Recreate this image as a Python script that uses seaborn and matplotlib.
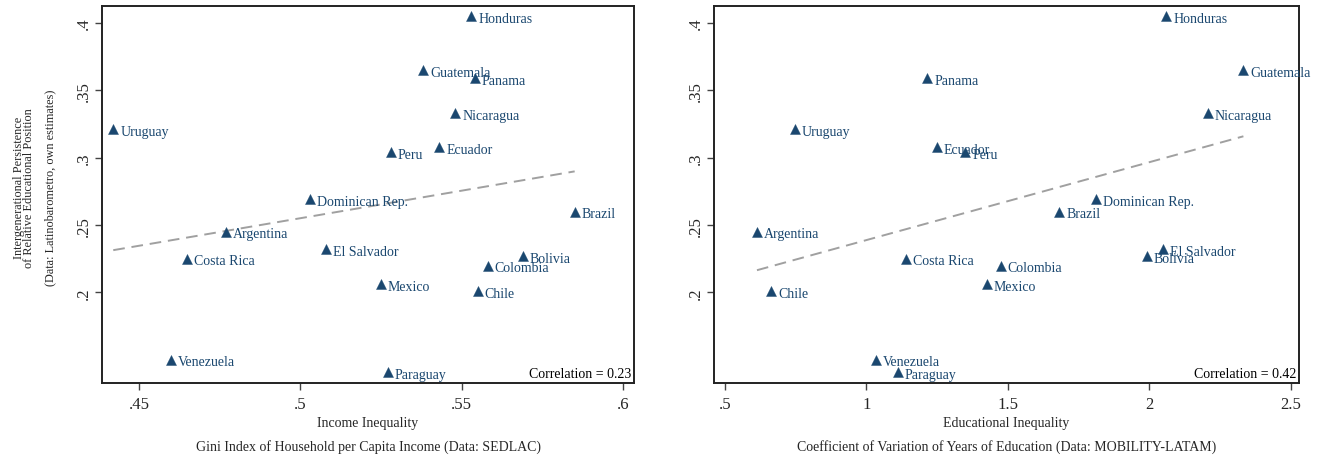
import numpy as np
import pandas as pd
import seaborn as sns
import matplotlib.pyplot as plt
from matplotlib.ticker import FuncFormatter

countries = ["Honduras", "Guatemala", "Panama", "Nicaragua", "Uruguay", "Ecuador",
             "Peru", "Dominican Rep.", "Brazil", "Argentina", "El Salvador",
             "Costa Rica", "Bolivia", "Colombia", "Mexico", "Chile", "Venezuela",
             "Paraguay"]
persistence = [0.405, 0.365, 0.359, 0.333, 0.321, 0.308, 0.304, 0.269, 0.260,
               0.245, 0.232, 0.225, 0.227, 0.220, 0.206, 0.201, 0.150, 0.141]
gini = [0.553, 0.538, 0.554, 0.548, 0.442, 0.543, 0.528, 0.503, 0.585, 0.477,
        0.508, 0.465, 0.569, 0.558, 0.525, 0.555, 0.460, 0.527]
edu_cv = [2.060, 2.332, 1.215, 2.206, 0.747, 1.249, 1.349, 1.810, 1.681, 0.613,
          2.047, 1.141, 1.990, 1.475, 1.426, 0.664, 1.032, 1.111]

df = pd.DataFrame({"country": countries, "persistence": persistence,
                   "gini": gini, "edu_cv": edu_cv})

NAVY = "#1a476f"

sns.set_style("ticks")
plt.rcParams["font.family"] = ["Liberation Serif", "DejaVu Serif"]
plt.rcParams["axes.linewidth"] = 1.4


def strip_zero(v, pos):
    s = f"{v:g}"
    if s.startswith("0."):
        s = s[1:]
    return s


def draw_panel(ax, xcol, xlim, xticks, xlabel, note, corr):
    # dashed linear fit, then the triangles with their country names
    sns.regplot(data=df, x=xcol, y="persistence", ax=ax, scatter=False, ci=None,
                line_kws={"color": "#a0a0a0", "ls": (0, (6, 3.5)), "lw": 1.4})
    sns.scatterplot(data=df, x=xcol, y="persistence", ax=ax, marker="^", s=52,
                    color=NAVY, edgecolor=NAVY, linewidth=0.3, zorder=3)
    for _, r in df.iterrows():
        ax.annotate(r["country"], (r[xcol], r["persistence"]), xytext=(5, -1.5),
                    textcoords="offset points", va="center", ha="left",
                    fontsize=10, color=NAVY)
    ax.set_xlim(*xlim)
    ax.set_ylim(0.1328, 0.4126)
    ax.set_xticks(xticks)
    ax.set_yticks([0.2, 0.25, 0.3, 0.35, 0.4])
    ax.xaxis.set_major_formatter(FuncFormatter(strip_zero))
    ax.yaxis.set_major_formatter(FuncFormatter(strip_zero))
    ax.tick_params(axis="both", direction="out", length=5, width=1,
                   color="#444444", labelsize=12)
    ax.tick_params(axis="x", pad=4)
    ax.tick_params(axis="y", labelrotation=90, pad=2)
    for lab in ax.get_yticklabels():
        lab.set_va("center")
    ax.set_xlabel(xlabel, fontsize=10, labelpad=3)
    ax.set_ylabel("")
    ax.text(0.5, -0.167, note, transform=ax.transAxes, ha="center", va="center",
            fontsize=10)
    ax.text(0.995, 0.008, f"Correlation = {corr}", transform=ax.transAxes,
            ha="right", va="bottom", fontsize=10, color="black")
    for sp in ax.spines.values():
        sp.set_visible(True)
        sp.set_color("#222222")


fig = plt.figure(figsize=(13.19, 4.6), dpi=100)
ax1 = fig.add_axes([0.0773, 0.1652, 0.4034, 0.8196])
ax2 = fig.add_axes([0.5413, 0.1652, 0.4435, 0.8196])

draw_panel(ax1, "gini", (0.4385, 0.6034), [0.45, 0.5, 0.55, 0.6],
           "Income Inequality",
           "Gini Index of Household per Capita Income (Data: SEDLAC)", "0.23")
draw_panel(ax2, "edu_cv", (0.4611, 2.5283), [0.5, 1, 1.5, 2, 2.5],
           "Educational Inequality",
           "Coefficient of Variation of Years of Education (Data: MOBILITY-LATAM)",
           "0.42")

ax1.set_ylabel("Intergenerational Persistence\nof Relative Educational Position\n\n"
               "(Data: Latinobarometro, own estimates)", fontsize=8.8,
               linespacing=0.85)
ax1.yaxis.set_label_coords(-0.085, 0.52)

fig.savefig("out.png", dpi=100)
